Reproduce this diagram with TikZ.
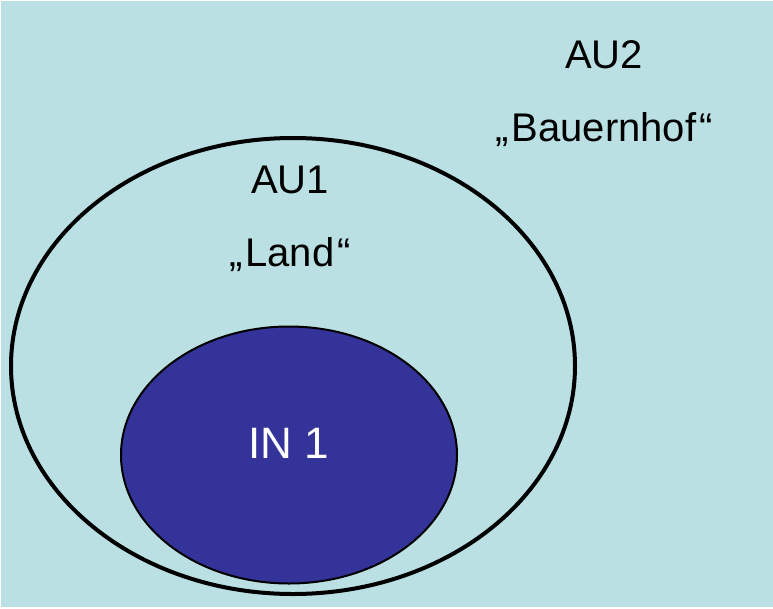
\documentclass[tikz,border=0pt]{standalone}
\usepackage{fontspec}
\setmainfont{Liberation Sans}
\usepackage{tikz}
\usetikzlibrary{shapes.geometric}
\usetikzlibrary{positioning}
\tikzset{
    area/.style={
           ellipse,
           draw=black,
           inner sep=0pt,
           text centered
           },
    areatext/.style={
           inner sep=0pt,
           text=black,
           font=\fontsize{40}{48}\selectfont
           },
}
\definecolor{pale}{HTML}{BAE0E3}
\definecolor{navy}{HTML}{333399}

\begin{document}
\begin{tikzpicture}[x=1pt,y=-1pt]

\useasboundingbox (0,0) rectangle (773,608);
\fill[pale] (1,1) rectangle (773,607);

 % outer area
\node[area, line width=4pt, minimum width=564pt, minimum height=456pt] (AUONE) at (293,366) {};

 % inner area
\node[area, line width=2pt, fill=navy, minimum width=336pt, minimum height=257pt] (INONE) at (289,455) {};

\node[areatext, text=white, font=\fontsize{44}{52}\selectfont] (INTEXT) at (289,443) {IN 1};

\node[areatext] (AUONENAME) at (290,180) {AU1};
\node[areatext, below=43pt of AUONENAME.south, anchor=north] (AUONELAND) {„\kern3pt Land\kern3pt“};

\node[areatext] (AUTWONAME) at (604,55) {AU2};
\node[areatext, below=43pt of AUTWONAME.south, anchor=north] (AUTWOHOF) {„\kern3pt Bauernhof\kern3pt“};

\end{tikzpicture}
\end{document}
